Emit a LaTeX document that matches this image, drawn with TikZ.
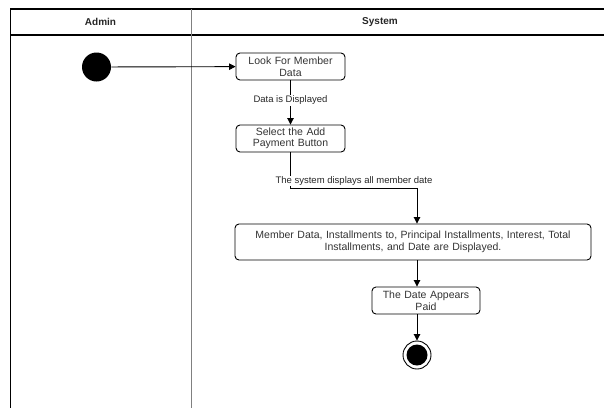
\documentclass[tikz,border=0pt]{standalone}
\usepackage{fontspec}
\setmainfont{Liberation Sans}
\usetikzlibrary{arrows.meta}
\begin{document}
\begin{tikzpicture}[x=1pt,y=-1pt,line width=0.9pt]
\tikzstyle{action}=[draw,rounded corners=4pt,align=center,inner sep=0pt,minimum height=27pt,text=black!80,font=\fontsize{10.5}{11.5}\selectfont]
\tikzstyle{lbl}=[fill=white,inner sep=1pt,text=black!85,font=\fontsize{9.5}{10}\selectfont]
\tikzstyle{lane}=[font=\bfseries\fontsize{10}{11}\selectfont,text=black!85]
\tikzstyle{flow}=[-{Triangle[width=6.5pt,length=6.5pt]}]
\useasboundingbox (0,0) rectangle (604,408);
% swimlanes
\draw[line width=1.2pt] (604,9) -- (10.5,9) -- (10.5,408);
\draw[line width=1.2pt] (10.5,35) -- (604,35);
\draw[gray,line width=1.2pt] (191.5,9) -- (191.5,408);
\path (100.5,22) node[lane](admin){Admin} (380,22) node[lane](system){System};

\path (96.5,67) node[circle,fill=black,minimum size=29pt,inner sep=0pt](start){};
\path (290.5,66.5) node[action,text width=109pt](look){Look For Member\\Data};
\path (290.5,138.5) node[action,text width=109pt](select){Select the Add\\Payment Button};
\path (413,242) node[action,text width=356pt,minimum height=36pt](shown){Member Data, Installments to, Principal Installments, Interest, Total\\Installments, and Date are Displayed.};
\path (426,300.5) node[action,text width=108pt](paid){The Date Appears\\Paid};
\path (417,355) node[circle,draw,minimum size=28pt,inner sep=0pt](stop){};
\path (stop) node[circle,fill=black,minimum size=21pt,inner sep=0pt](stopdot){};
\coordinate (bend) at (290.5,188);

\draw[flow] (start) -- (look);
\draw[flow] (look) -- node[lbl,pos=0.45]{Data is Displayed} (select);
\draw[flow] (select) -- (bend) -| (shown.north -| stop);
\path (354,181) node[lbl](shownlbl){The system displays all member date};
\draw[flow] (shown.south -| stop) -- (paid.north -| stop);
\draw[flow] (paid.south -| stop) -- (stop);
\end{tikzpicture}
\end{document}
